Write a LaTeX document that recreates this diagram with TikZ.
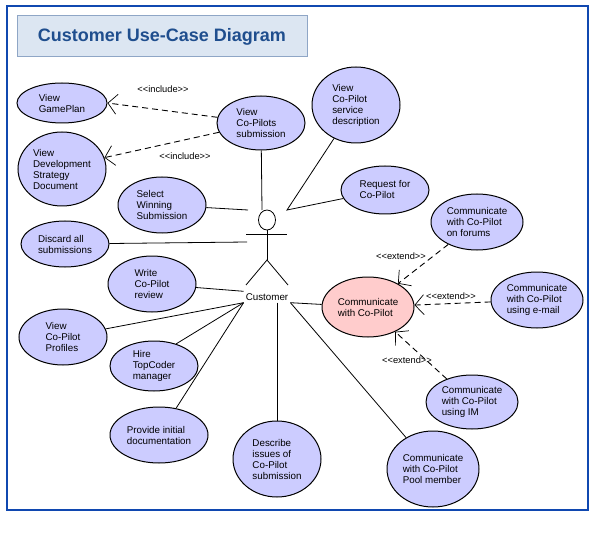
\documentclass[tikz,border=0pt]{standalone}
\usepackage{fontspec}
\setmainfont{Liberation Sans}
\usepackage{tikz}
\usetikzlibrary{shapes,arrows.meta,positioning,calc}
\definecolor{frameblue}{HTML}{1048B0}
\definecolor{titlefill}{HTML}{DCE6F2}
\definecolor{titleline}{HTML}{8FA6C6}
\definecolor{titletext}{HTML}{1F4E8E}
\definecolor{ucfill}{HTML}{CCCCFF}
\definecolor{mainfill}{HTML}{FFCCCC}
\tikzset{
  usecase/.style={ellipse,draw,fill=ucfill,line width=1pt,inner sep=1pt,
    align=left,font=\fontsize{9.8}{11}\selectfont},
  mainuse/.style={usecase,fill=mainfill},
  assoc/.style={line width=0.8pt},
  dep/.style={line width=0.9pt,dash pattern=on 6pt off 4pt,
    -{Straight Barb[length=9pt,width=20pt,line width=0.7pt]}},
  stereo/.style={font=\fontsize{9.3}{10}\selectfont,inner sep=0pt}
}
\begin{document}
\begin{tikzpicture}[x=1pt,y=-1pt]
\useasboundingbox (0,0) rectangle (601,534);
% the frame and the title
\draw[frameblue,line width=1.5pt] (7,6) rectangle (588,510);
\node[draw=titleline,fill=titlefill,line width=1pt,minimum width=290pt,minimum height=41pt,
  text=titletext,font=\bfseries\fontsize{18}{20}\selectfont] (title) at (162,36.5) {Customer Use-Case Diagram};

% the use cases
\node[usecase,minimum width=90pt,minimum height=40pt] (plan) at (62,103) {View\\GamePlan};
\node[usecase,minimum width=88pt,minimum height=74pt] (strat) at (62,169) {View\\Development\\Strategy\\Document};
\node[usecase,minimum width=88pt,minimum height=54pt] (subs) at (261,123) {View\\Co-Pilots\\submission};
\node[usecase,minimum width=88pt,minimum height=56pt] (win) at (162,205) {Select\\Winning\\Submission};
\node[usecase,minimum width=88pt,minimum height=46pt] (disc) at (65,244) {Discard all\\submissions};
\node[usecase,minimum width=88pt,minimum height=76pt] (desc) at (356,105) {View\\Co-Pilot\\service\\description};
\node[usecase,minimum width=88pt,minimum height=48pt] (req) at (385,190) {Request for\\Co-Pilot};
\node[usecase,minimum width=92pt,minimum height=56pt] (forum) at (477,222) {Communicate\\with Co-Pilot\\on forums};
\node[usecase,minimum width=88pt,minimum height=56pt] (rev) at (152,284) {Write\\Co-Pilot\\review};
\node[usecase,minimum width=88pt,minimum height=56pt] (prof) at (63,337) {View\\Co-Pilot\\Profiles};
\node[usecase,minimum width=88pt,minimum height=50pt] (hire) at (154,366) {Hire\\TopCoder\\manager};
\node[usecase,minimum width=98pt,minimum height=56pt] (doc) at (159,435) {Provide initial\\documentation};
\node[usecase,minimum width=88pt,minimum height=76pt] (issue) at (277,459) {Describe\\issues of\\Co-Pilot\\submission};
\node[mainuse,minimum width=92pt,minimum height=60pt] (comm) at (368,307) {Communicate\\with Co-Pilot};
\node[usecase,minimum width=92pt,minimum height=56pt] (mail) at (537,300) {Communicate\\with Co-Pilot\\using e-mail};
\node[usecase,minimum width=92pt,minimum height=54pt] (im) at (472,402) {Communicate\\with Co-Pilot\\using IM};
\node[usecase,minimum width=92pt,minimum height=76pt] (pool) at (433,469) {Communicate\\with Co-Pilot\\Pool member};

% the actor
\node[ellipse,draw,line width=0.8pt,minimum width=17pt,minimum height=20pt,inner sep=0pt] (head) at (267,220) {};
\draw[assoc] (246,234) -- (287,234);
\draw[assoc] (head.south) -- (267,260) coordinate (hip);
\draw[assoc] (246,285) -- (hip) -- (288,285);
\node[font=\fontsize{9.8}{11}\selectfont,inner sep=2pt,text height=7pt,text depth=0pt] (cust) at (267,297) {Customer};
\coordinate (neck) at (262,210);
\coordinate (lhand) at (248,210);
\coordinate (larm) at (247,242);
\coordinate (rhand) at (287,210);

% the associations
\draw[assoc] (subs) -- (neck);
\draw[assoc] (win) -- (lhand);
\draw[assoc] (disc) -- (larm);
\draw[assoc] (desc) -- (rhand) -- (req);
\draw[assoc] (rev) -- (cust.north west);
\draw[assoc] (prof) -- (cust.south west);
\draw[assoc] (hire.45) -- (cust.south west);
\draw[assoc] (doc) -- (cust.south west);
\draw[assoc] (cust.south -| issue) -- (issue);
\draw[assoc] (cust.south east) -- (comm);
\draw[assoc] (cust.south east) -- (pool);

% the include and extend arrows
\draw[dep] (subs) -- (plan.east);
\draw[dep] (subs) -- (strat.15);
\draw[dep] (forum) -- (comm);
\draw[dep] (mail) -- (comm);
\draw[dep] (im) -- (comm);
\node[stereo] at (163,89) {<{}<include>{}>};
\node[stereo] at (185,156) {<{}<include>{}>};
\node[stereo] at (401,256) {<{}<extend>{}>};
\node[stereo] at (451,296) {<{}<extend>{}>};
\node[stereo] at (407,360) {<{}<extend>{}>};
\end{tikzpicture}
\end{document}
